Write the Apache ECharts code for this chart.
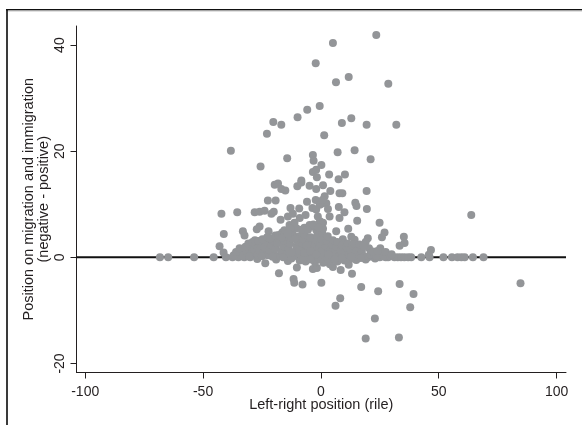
<!DOCTYPE html>
<html>
<head>
<meta charset="utf-8">
<style>
  html, body { margin: 0; padding: 0; background: #fff; }
  #chart { width: 582px; height: 425px; }
</style>
<script src="https://cdn.jsdelivr.net/npm/echarts@6/dist/echarts.min.js"></script>
</head>
<body>
<div id="chart"></div>
<script>
var xTicks = [-100, -50, 0, 50, 100];
var yTicks = [-20, 0, 20, 40];
var xName = "Left-right position (rile)";
var yName = "Position on migration and immigration\n(negative - positive)";

// parties exactly on zero
var zeroX = [-68.3, -64.8, -53.8, -45.5, -40.3, -37.5, -35, -32.5, -30, -27, 20, 22.5, 25, 27.5, 28.5, 31.2, 32.6, 34, 35.4, 37, 38.3, 42.6, 46.1, 52, 55.6, 58, 59.6, 61, 64.5, 69];

// scattered points above the dense band
var upperPoints = [
  [23.5, 41.9], [5.1, 40.4], [-2.2, 36.6], [6.4, 33], [11.8, 34], [28.6, 32.7], [-9.9, 26.4], [-5.8, 27.8],
  [-0.5, 28.5], [8.9, 25.3], [12.9, 26.2], [19.4, 25], [32, 25], [1.4, 23], [7.1, 19.8], [14.3, 20.2],
  [21.1, 18.5], [-3.4, 19.3], [-3.1, 18.2], [0.2, 17.4], [-3.4, 16.1], [-2, 16.5], [-1.7, 15.1], [3.5, 15.6],
  [7.5, 14.7], [10.2, 15.6], [-8.3, 14.5], [-10, 13.4], [-4.8, 13.5], [-2, 12.9], [0.9, 13.6], [4, 12.5],
  [7.9, 12.1], [9.1, 12.1], [19.4, 12.5], [-5.9, 10.5], [-2.2, 10.8], [0.2, 10.1], [1.6, 11.5], [2.3, 10.2],
  [14.6, 10.3], [15.1, 9.7], [19.5, 9.1], [-9.2, 9.2], [-12.9, 9.3], [-3.6, 9.3], [3, 9.1], [7.6, 9.5],
  [10, 8.5], [7.9, 7.4], [-38.2, 20.1], [-25.6, 17.1], [-14.3, 18.7], [-22.9, 23.3], [-20.2, 25.5], [-16.8, 25],
  [-19.6, 13.7], [-18.2, 13.9], [-16.8, 12.9], [-15.1, 12.6], [-8.3, 14.1], [-22.5, 10.7], [-19.2, 10.7],
  [-42.2, 8.2], [-35.5, 8.5], [-28.1, 8.5], [-26, 8.6], [-23.9, 8.8], [-20, 8.6], [-21, 8.2], [-14, 7.7],
  [-11.9, 8.2], [-9, 7.4], [-17.1, 7.1], [-11.2, 6.5], [-10.4, 5.5], [-2, 9], [-0.5, 9.9], [0.7, 10.8],
  [-1.3, 7.7], [-4.8, 6.1], [-2, 5.2], [-41.2, 4.4], [-33.1, 4.9], [-32.4, 4.1], [-26, 5.8], [-27.2, 5.3],
  [-22.2, 4.9], [-16.4, 4.7], [-43, 2.1], [-41.3, 0.9], [63.8, 8], [46.7, 1.4], [45.8, 0.5], [35.2, 3.9],
  [35.5, 2.7], [33.4, 2.2], [27, 4.7], [25.9, 3.8], [24.9, 6.5], [15.4, 6.9], [19.9, 3.6], [19, 2.9],
  [20.4, 1.7], [25.2, 1.7], [25.9, 0.8], [12.9, 3.9], [14.3, 3.3], [11.6, 5.4], [6.5, 4.9], [9.3, 3.4],
  [3.7, 7.7], [-0.4, 6.8], [0.9, 6.5], [-13.3, 6.1], [-6.5, 8], [-7, 5.6]
];

// points below zero
var lowerPoints = [
  [84.7, -4.9], [33.4, -5], [39.3, -6.9], [37.9, -9.4], [22.9, -11.5], [19, -15.3], [33.1, -15.1], [24.3, -6.4],
  [17.1, -5.6], [8.2, -7.7], [6.2, -9.1], [0.2, -4.8], [-7.8, -5.1], [-11.6, -4.1], [-11.3, -4.8], [13.2, -3.1],
  [8.4, -2.4], [5.1, -1.8], [3.8, -1.3], [-3.4, -2.2], [-1.7, -2], [-10.2, -1.9], [11.8, -1.4], [-23.6, -1.1],
  [-17.8, -3], [-6.5, -0.8], [-14, -0.7], [-2.5, -0.9], [1, -1], [7, -0.8], [10, -0.6], [15, -0.5], [19, -0.4],
  [-19, -0.4], [-27, -0.3], [-9, -0.6], [4, -0.6], [12.5, -0.3], [23, -0.2]
];

// the solid band around zero, read as closely as the overlap allows
var densePoints = [
  [-37, 0.4], [-34, 0.9], [-33, 0.3], [-31.5, 1.1], [-30, 1.9], [-29.2, 0.7], [-28.4, 1.5], [-27.6, 2.4], [-26.8, 0.5], [-26, 1.3],
  [-25.3, 2.6], [-24.6, 0.8], [-24, 1.9], [-23.2, 3], [-22.4, 0.4], [-21.8, 1.4], [-21.1, 2.3], [-20.5, 3.2], [-19.8, 0.6], [-19.1, 1.7],
  [-18.5, 2.7], [-17.9, 3.5], [-17.2, 0.3], [-16.6, 1.2], [-16, 2.1], [-15.4, 3.1], [-14.9, 3.9], [-14.3, 0.7], [-13.7, 1.6], [-13.1, 2.6],
  [-12.6, 3.6], [-12, 4.5], [-11.5, 0.2], [-10.9, 1.1], [-10.4, 2], [-9.8, 3], [-9.3, 4], [-8.8, 0.6], [-8.3, 1.5], [-7.8, 2.4],
  [-7.3, 3.4], [-6.9, 4.3], [-6.3, 0.1], [-5.8, 0.9], [-5.3, 1.8], [-4.8, 2.8], [-4.4, 3.8], [-4.1, 5.8], [-3.4, 0.4], [-3, 1.3],
  [-2.5, 2.2], [-2.1, 3.2], [-1.6, 4.1], [-1.2, 0.7], [-0.8, 1.6], [-0.3, 2.6], [0.1, 3.5], [0.5, 4.6], [0.9, 5.4], [1.3, 0.3],
  [1.7, 1.2], [2.1, 2.1], [2.5, 3.1], [2.9, 4], [3.8, 0.6], [4.2, 1.5], [4.7, 2.4], [5.1, 3.2], [5.6, 0.2],
  [6, 1], [6.5, 2], [7, 2.9], [8, 0.4], [8.5, 1.3], [9, 2.3], [9.6, 0.1], [10.2, 1], [10.8, 1.9],
  [11.4, 2.6], [12, 0.5], [12.7, 1.4], [13.4, 2.3], [14.1, 0.2], [14.9, 1], [15.7, 1.9], [16.5, 0.4], [17.4, 1.2], [18.3, 0.2],
  [-15.5, 5.1], [-13, 5.4], [-8.1, 5.2], [-5.5, 5.2], [-3.2, 6.2], [-0.9, 5.6], [-30.5, 0.2], [-25, 0.2],
  [-20.5, 0.1], [-16, 0], [-12.5, -0.2], [-7.5, -0.3], [-4.2, -0.4], [-0.6, -0.3], [2.8, -0.2], [5.9, -0.3], [9, -0.2], [13, 0.1],
  [17, -0.1], [21, 0.6], [23.5, 0.3], [26.5, 0.2], [29.5, 0.3], [-1.4, 0.1], [0, 0.9], [3.2, 0.5], [-6, 2.2], [-9.2, 1.3],
  [-36, 1], [-34.5, 1.7], [-32, 2], [-30.8, 2.6], [-29, 2.9], [-28, 3.2], [-26.4, 3.1], [-24.8, 3.4], [-22.8, 3.8], [-21.5, 3.6],
  [-19.4, 4.1], [-18, 4.2], [-16.5, 3.7], [-14, 4.5], [-12.4, 0.9], [-11, 3.5], [-7, 0.8], [-4.5, 1.2], [-2, 0.6],
  [14.2, 2.5], [16.4, 2.4], [18, 2.1], [22, 1.1], [24, 1.2], [27.5, 1], [30, 0.6]
];

var chart = echarts.init(document.getElementById("chart"), null, { renderer: "canvas" });

var inkColor = "#231f20";
var dotColor = "#939598";
var fontName = "Liberation Sans";

var allPoints = zeroX.map(function (x) { return [x, 0]; })
  .concat(upperPoints, lowerPoints, densePoints);

var option = {
  animation: false,
  backgroundColor: "#fff",
  textStyle: { fontFamily: fontName },
  graphic: [
    { type: "rect", silent: true, shape: { x: 6, y: 10, width: 2, height: 415 }, style: { fill: "#3a3a3a" } },
    { type: "rect", silent: true, shape: { x: 6, y: 9, width: 576, height: 1.5 }, style: { fill: "#111" } },
    { type: "rect", silent: true, shape: { x: 8, y: 10.5, width: 574, height: 1 }, style: { fill: "#c4c4c4" } }
  ],
  grid: { left: 76.5, right: 16, top: 26, bottom: 52.5 },
  xAxis: {
    type: "value",
    min: -103.7,
    max: 104,
    name: xName,
    nameLocation: "middle",
    nameGap: 25,
    nameMoveOverlap: false,
    nameTextStyle: { color: inkColor, fontSize: 14.5, fontFamily: fontName },
    splitLine: { show: false },
    axisLine: { onZero: false, lineStyle: { color: inkColor, width: 1 } },
    axisTick: { length: 6, customValues: xTicks, lineStyle: { color: inkColor, width: 1 } },
    axisLabel: { customValues: xTicks, color: inkColor, fontSize: 14, margin: 13, fontFamily: fontName }
  },
  yAxis: {
    type: "value",
    min: -21.7,
    max: 43.6,
    name: yName,
    nameLocation: "middle",
    nameGap: 25,
    nameMoveOverlap: false,
    nameRotate: 90,
    nameTextStyle: { color: inkColor, fontSize: 14.5, lineHeight: 15, fontFamily: fontName },
    splitLine: { show: false },
    axisLine: { onZero: false, lineStyle: { color: inkColor, width: 1 } },
    axisTick: { length: 6, customValues: yTicks, lineStyle: { color: inkColor, width: 1 } },
    axisLabel: { customValues: yTicks, color: inkColor, fontSize: 14, rotate: 90, margin: 9, fontFamily: fontName }
  },
  series: [
    {
      type: "line",
      z: 1,
      symbol: "none",
      silent: true,
      data: [[-103.7, 0], [104, 0]],
      lineStyle: { color: "#111", width: 2 }
    },
    {
      type: "scatter",
      z: 2,
      symbol: "circle",
      symbolSize: 8,
      data: allPoints,
      itemStyle: { color: dotColor, opacity: 1 }
    }
  ]
};

chart.setOption(option);
</script>
</body>
</html>
